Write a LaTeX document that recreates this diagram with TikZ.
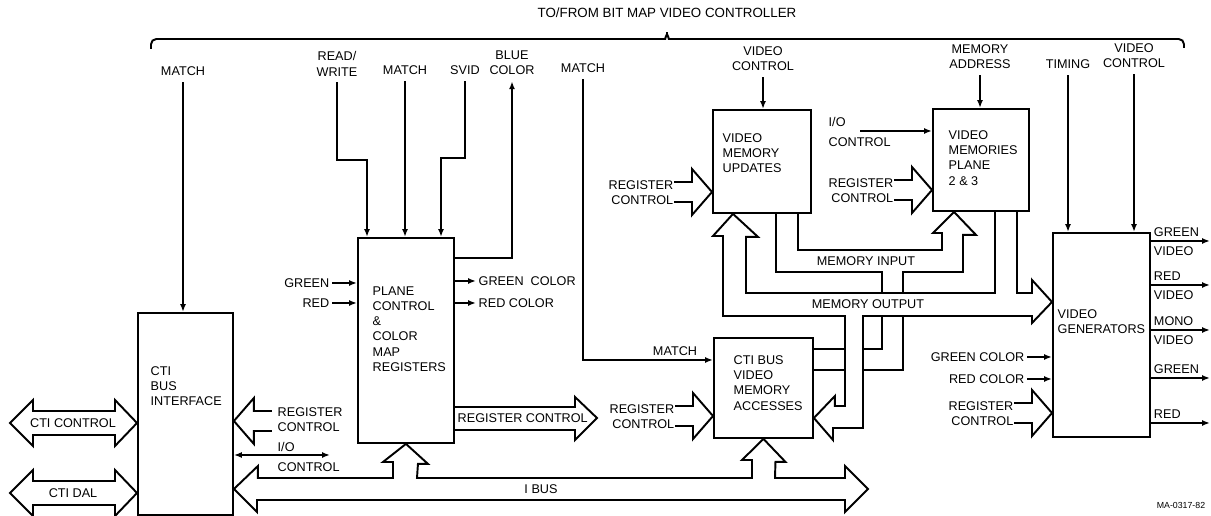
\documentclass[tikz,border=0pt]{standalone}
\usepackage{fontspec}
\setmainfont{Liberation Sans}
\usetikzlibrary{arrows.meta,calc}
% wide input arrow with open tail, #2 = 1 points right, -1 points left
\newcommand{\regin}[2]{\draw ($(#1)+({-38*(#2)},-10)$) -- ++({18*(#2)},0) -- ++(0,-13) -- (#1) -- ++({-20*(#2)},23) -- ++(0,-13) -- ++({-18*(#2)},0);}

\begin{document}
\begin{tikzpicture}[x=0.02cm,y=-0.02cm,>={Latex[length=4.5pt,width=3.4pt]},line width=1.1pt,font=\fontsize{7.2}{8.7}\selectfont]
\tikzstyle{box}=[draw,anchor=north west,inner sep=0pt]
\tikzstyle{lbl}=[inner sep=1pt,align=left]
\tikzstyle{toplbl}=[inner sep=0pt,align=center,anchor=south]
\useasboundingbox (0,0) rectangle (1211,516);

\node[font=\fontsize{7.6}{9}\selectfont] (ttl) at (667,13) {TO/FROM BIT MAP VIDEO CONTROLLER};
\draw[rounded corners=3pt] (151,49) -- (151,39) -- (660,39) to[out=0,in=-90] (667,29) to[out=-90,in=180] (674,39) -- (1184,39) -- (1184,48);

\node[box,minimum width=1.9cm,minimum height=4.04cm] (cbi) at (137,312) {};
\node[box,minimum width=1.92cm,minimum height=4.1cm] (pcr) at (357,237) {};
\node[box,minimum width=1.96cm,minimum height=2.06cm] (vmu) at (712,109) {};
\node[box,minimum width=1.92cm,minimum height=2.04cm] (vmp) at (932,108) {};
\node[box,minimum width=1.98cm,minimum height=2cm] (vma) at (713,337) {};
\node[box,minimum width=1.94cm,minimum height=4.08cm] (vg) at (1052,232) {};
\node[lbl,anchor=west] (cbit) at (148,386) {CTI\\BUS\\INTERFACE};
\node[lbl,anchor=west] (pcrt) at (370,329) {PLANE\\CONTROL\\\&\\COLOR\\MAP\\REGISTERS};
\node[lbl,anchor=west] (vmut) at (720,153) {VIDEO\\MEMORY\\UPDATES};
\node[lbl,anchor=west] (vmpt) at (946,158) {VIDEO\\MEMORIES\\PLANE\\2 \& 3};
\node[lbl,anchor=west] (vmat) at (731,383) {CTI BUS\\VIDEO\\MEMORY\\ACCESSES};
\node[lbl,anchor=west] (vgt) at (1055,322) {VIDEO\\GENERATORS};

\node[toplbl] (m1) at (183,77) {MATCH};
\node[toplbl] (rw) at (337,77) {READ/\\WRITE};
\node[toplbl] (m2) at (405,76) {MATCH};
\node[toplbl] (svid) at (465,76) {SVID};
\node[toplbl] (blue) at (512,76) {BLUE\\COLOR};
\node[toplbl] (m3) at (583,74) {MATCH};
\node[toplbl] (vc1) at (763,72) {VIDEO\\CONTROL};
\node[toplbl] (ma) at (980,70) {MEMORY\\ADDRESS};
\node[toplbl] (tim) at (1068,70) {TIMING};
\node[toplbl] (vc2) at (1134,69) {VIDEO\\CONTROL};
\draw[->] ([yshift=-3pt]m1.south) -- (m1.south |- cbi.north);
\draw[->] ([yshift=-3pt]rw.south) |- (367,160) -- (367,160 |- pcr.north);
\draw[->] ([yshift=-3pt]m2.south) -- (m2.south |- pcr.north);
\draw[->] ([yshift=-3pt]svid.south) |- (441,158) -- (441,158 |- pcr.north);
\draw[->] (pcr.east |- 0,258) -| ([yshift=-3pt]blue.south);
\draw[->] ([yshift=-3pt]m3.south) |- (vma.west |- 0,360);
\node[lbl] (m3b) at (675,351) {MATCH};
\draw[->] ([yshift=-3pt]vc1.south) -- (vc1.south |- vmu.north);
\draw[->] ([yshift=-3pt]ma.south) -- (ma.south |- vmp.north);
\draw[->] ([yshift=-3pt]tim.south) -- (tim.south |- vg.north);
\draw[->] ([yshift=-3pt]vc2.south) -- (vc2.south |- vg.north);

\node[lbl,anchor=east] (gin) at (332,283) {GREEN};
\node[lbl,anchor=east] (rin) at (332,303) {RED};
\draw[->] (gin.east) -- (gin.east -| pcr.west);
\draw[->] (rin.east) -- (rin.east -| pcr.west);
\node[lbl,anchor=west] (gout) at (476,281) {GREEN\ \ COLOR};
\node[lbl,anchor=west] (rout) at (476,303) {RED COLOR};
\draw[->] (pcr.east |- gout.west) -- (gout.west);
\draw[->] (pcr.east |- rout.west) -- (rout.west);
\node[lbl,anchor=east] (gc) at (1027,357) {GREEN COLOR};
\node[lbl,anchor=east] (rc) at (1027,379) {RED COLOR};
\draw[->] (gc.east) -- (gc.east -| vg.west);
\draw[->] (rc.east) -- (rc.east -| vg.west);
\foreach \y/\a/\b/\n in {241/GREEN/VIDEO/gvo,285/RED/VIDEO/rvo,330/MONO/VIDEO/mvo,378/GREEN//gro,423/RED//rdo}{
  \coordinate (\n) at (1210,\y);
  \draw[->] (vg.east |- \n) -- (\n);
  \node[lbl,inner sep=0pt,anchor=base west] (\n-a) at (1153,\y-4) {\a};
  \node[lbl,inner sep=0pt,anchor=north west] (\n-b) at (1153,\y+5) {\b};
}

\node[lbl,anchor=west] (io1) at (275,457) {I/O\\[2.6pt]CONTROL};
\coordinate (io1e) at (330,455);
\draw[<->] (cbi.east |- io1e) -- (io1e);
\node[lbl,anchor=west] (io2) at (826,132) {I/O\\[2.6pt]CONTROL};
\coordinate (io2s) at (860,131);
\draw[->] (io2s) -- (io2s -| vmp.west);

\coordinate (rc1) at (cbi.east |- 0,421);
\regin{rc1}{-1}
\node[lbl,anchor=west] (trc1) at (275,420) {REGISTER\\CONTROL};
\foreach \b/\y/\n in {vmu/192/rc2,vmp/190/rc3,vma/416/rc4,vg/413/rc5}{
  \coordinate (\n) at (\b.west |- 0,\y);
  \regin{\n}{1}
  \node[lbl,anchor=east,align=right] (t\n) at ($(\n)+(-36,1)$) {REGISTER\\CONTROL};
}

\foreach \y/\t/\n in {423/CTI CONTROL/ctic,493/CTI DAL/ctid}{
  \draw (cbi.west |- 0,\y) -- ++(-22,-23) -- ++(0,11) -- (33,\y-12) -- (33,\y-23) -- (10,\y) -- (33,\y+23) -- (33,\y+12) -- (115,\y+12) -- (115,\y+23) -- cycle;
  \node (\n) at (73,\y) {\t};
}
\draw (cbi.east |- 0,489) -- ++(24,-23) -- ++(0,12) -- (393,478) -- ++(0,-16) -- ++(-10,0) -- (pcr.south) -- ++(22,20) -- ++(-10,0) -- (417,478) -- (752,478) -- ++(0,-18) -- ++(-10,0) -- (vma.south) -- ++(22,23) -- ++(-10,0) -- (775,478) -- (845,478) -- ++(0,-12) -- ++(23,23) -- ++(-23,23) -- ++(0,-12) -- (257,500) -- ++(0,12) -- cycle;
\node (ibus) at (541,489) {I BUS};
\draw (pcr.east |- 0,407) -- (575,407) -- ++(0,-10) -- ++(22,21) -- ++(-22,22) -- ++(0,-10) -- (pcr.east |- 0,430);
\node[lbl,anchor=west] (rco) at (455,418) {REGISTER CONTROL};

\draw (1017,0 |- vmp.south) -- (1017,293) -- (1032,293) -- ++(0,-13) -- (vg.west |- 0,302) -- ++(-20,21) -- ++(0,-7) -- (863,316) -- (863,428) -- (833,428) -- ++(0,12) -- (vma.east |- 0,418) -- ++(21,-22) -- ++(0,10) -- (845,406) -- (845,316) -- (723,316) -- (723,236) -- ++(-10,0) -- (733,0 |- vmu.south) -- ++(25,23) -- ++(-12,0) -- (746,293) -- (995,293) -- (995,0 |- vmp.south);
\node (mo) at (868,304) {MEMORY OUTPUT};
\draw (798,0 |- vmu.south) -- (798,250) -- (942,250) -- ++(0,-17) -- ++(-9,0) -- (954,0 |- vmp.south) -- ++(22,23) -- ++(-13,0) -- (963,272) -- (903,272) -- (903,293);
\draw (903,316) -- (903,370) -- (863,370) (845,370) -- (vma.east |- 0,370);
\draw (776,0 |- vmu.south) -- (776,272) -- (882,272) -- (882,293) (882,316) -- (882,349) -- (863,349) (845,349) -- (vma.east |- 0,349);
\node (mi) at (866,261) {MEMORY INPUT};
\node[font=\fontsize{5}{6}\selectfont,anchor=west] (fig) at (1150,505) {MA-0317-82};
\end{tikzpicture}
\end{document}
